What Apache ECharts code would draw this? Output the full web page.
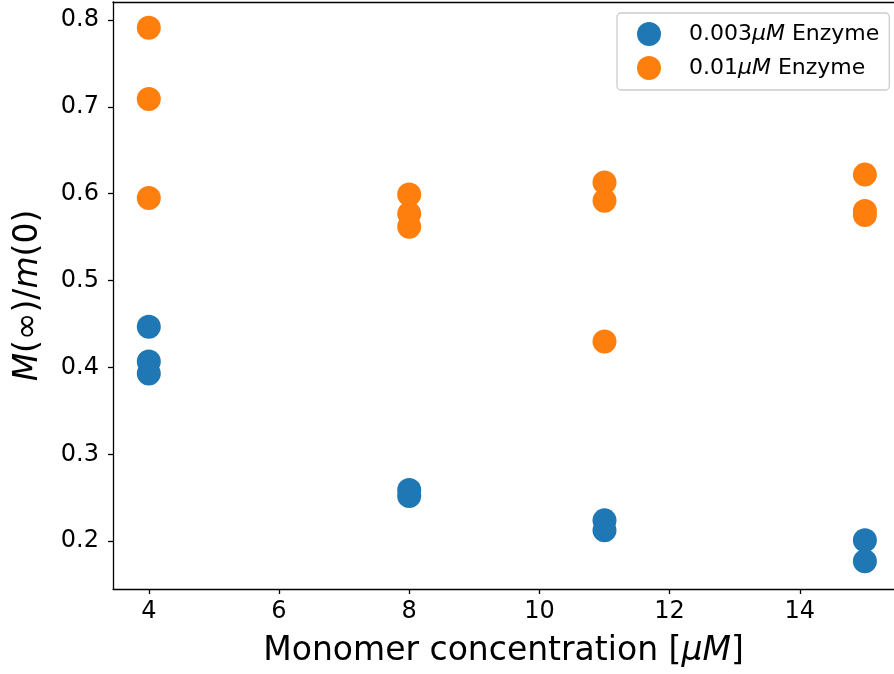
<!DOCTYPE html>
<html>
<head>
<meta charset="utf-8">
<script src="https://cdn.jsdelivr.net/npm/echarts@6/dist/echarts.min.js"></script>
<style>html,body{margin:0;padding:0;background:#fff}#c{width:894px;height:674px}</style>
</head>
<body>
<div id="c"></div>
<script>
// ---- data ----
const seriesNames = ['0.003μM Enzyme', '0.01μM Enzyme'];
const lowX  = [4, 4, 4, 8, 8, 11, 11, 15, 15];
const lowY  = [0.447, 0.407, 0.393, 0.259, 0.252, 0.224, 0.2125, 0.201, 0.177];
const highX = [4, 4, 4, 8, 8, 8, 11, 11, 11, 15, 15, 15];
const highY = [0.791, 0.709, 0.595, 0.599, 0.577, 0.562, 0.613, 0.592, 0.430, 0.622, 0.580, 0.5755];
const xTicks = [4, 6, 8, 10, 12, 14];
const yTicks = [0.2, 0.3, 0.4, 0.5, 0.6, 0.7, 0.8];

const pairs = (xs, ys) => xs.map((x, i) => [x, ys[i]]);
const FONT = 'DejaVu Sans';
const TICK_FS = 24;
const TITLE_FS = 33;

const chart = echarts.init(document.getElementById('c'), null, {renderer: 'canvas'});
chart.setOption({
  animation: false,
  backgroundColor: '#fff',
  textStyle: {fontFamily: FONT},
  grid: {left: 113, top: 2, right: 0, bottom: 85, show: false},
  legend: {
    orient: 'vertical', left: 617, top: 13,
    padding: [9, 10, 10, 20],
    itemWidth: 24, itemHeight: 24, itemGap: 10,
    icon: 'circle',
    selectedMode: false,
    backgroundColor: 'rgba(255,255,255,0.8)',
    borderColor: '#cccccc', borderWidth: 1.3, borderRadius: 4,
    formatter: name => name.replace('μM', '{i|μM}'),
    textStyle: {
      fontFamily: FONT, fontSize: 22, color: '#000', padding: [0, 0, 0, 23],
      rich: {i: {fontFamily: FONT, fontSize: 22, fontStyle: 'italic', color: '#000'}}
    },
    data: seriesNames
  },
  xAxis: [{
    type: 'value', min: 3.45, max: 15.447,
    splitLine: {show: false},
    axisLine: {show: true, onZero: false, lineStyle: {color: '#000', width: 1.3}},
    axisTick: {show: true, length: 5, lineStyle: {color: '#000', width: 1.3}, customValues: xTicks},
    axisLabel: {customValues: xTicks, fontFamily: FONT, fontSize: TICK_FS, color: '#000', margin: 11},
    name: 'Monomer concentration [{i|μM}]',
    nameLocation: 'middle', nameGap: 46,
    nameTextStyle: {fontFamily: FONT, fontSize: TITLE_FS, color: '#000',
      rich: {i: {fontFamily: FONT, fontSize: TITLE_FS, fontStyle: 'italic', color: '#000'}}}
  }, {
    type: 'value', position: 'top', min: 3.45, max: 15.447,
    splitLine: {show: false},
    axisLine: {show: true, onZero: false, lineStyle: {color: '#000', width: 1.3}},
    axisTick: {show: false}, axisLabel: {show: false}
  }],
  yAxis: {
    type: 'value', min: 0.145, max: 0.8207,
    splitLine: {show: false},
    axisLine: {show: true, onZero: false, lineStyle: {color: '#000', width: 1.3}},
    axisTick: {show: true, length: 5, lineStyle: {color: '#000', width: 1.3}, customValues: yTicks},
    axisLabel: {customValues: yTicks, formatter: v => v.toFixed(1), fontFamily: FONT, fontSize: TICK_FS, color: '#000', margin: 14},
    name: '{i|M}(∞)/{i|m}(0)',
    nameLocation: 'middle', nameGap: 68, nameRotate: 90,
    nameTextStyle: {fontFamily: FONT, fontSize: TITLE_FS, color: '#000',
      rich: {i: {fontFamily: FONT, fontSize: TITLE_FS, fontStyle: 'italic', color: '#000'}}}
  },
  series: [
    {name: seriesNames[0], type: 'scatter', symbol: 'circle', symbolSize: 24,
     itemStyle: {color: '#1f77b4', opacity: 1}, data: pairs(lowX, lowY)},
    {name: seriesNames[1], type: 'scatter', symbol: 'circle', symbolSize: 24,
     itemStyle: {color: '#ff7f0e', opacity: 1}, data: pairs(highX, highY)}
  ]
});
</script>
</body>
</html>
